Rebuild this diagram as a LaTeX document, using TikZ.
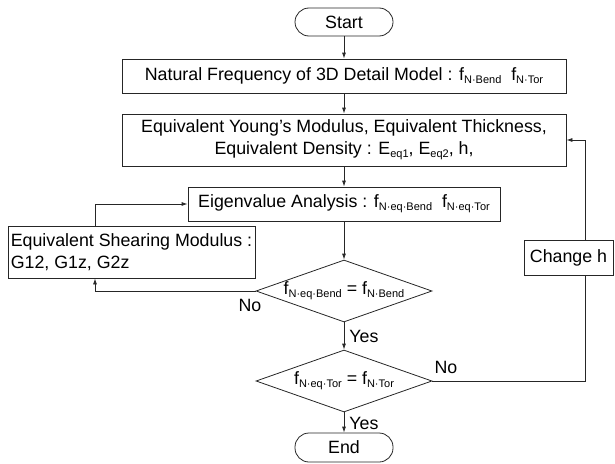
\documentclass[tikz,border=0pt]{standalone}
\usepackage{fontspec}
\setmainfont{Liberation Sans}
\usetikzlibrary{shapes.geometric,arrows.meta}
\newcommand\sbx[1]{\raisebox{-0.35ex}{\fontsize{11}{12}\selectfont #1}}
\begin{document}
\begin{tikzpicture}[x=1pt,y=-1pt,
  every node/.style={font=\fontsize{17.8}{22}\selectfont},
  box/.style={draw=black!85, line width=0.8pt, inner sep=0, align=center},
  term/.style={draw=black!85, line width=0.8pt, rounded corners=14pt, minimum width=98, minimum height=28, inner sep=0},
  dec/.style={draw=black!85, line width=0.8pt, diamond, aspect=2.84, minimum width=176, minimum height=62, inner sep=0},
  conn/.style={draw=black!85, line width=0.8pt},
  arr/.style={conn, -{Latex[length=6pt,width=4pt]}},
  lbl/.style={inner sep=0}
]
\useasboundingbox (0,0) rectangle (615,463);
\node[term] (start) at (344,22) {Start};
\node[box, minimum width=444, minimum height=34] (nf) at (344,76)
  {Natural Frequency of 3D Detail Model : f\sbx{N·Bend}\ \ f\sbx{N·Tor}};
\node[box, minimum width=444, minimum height=52] (eq) at (344,140)
  {Equivalent Young’s Modulus, Equivalent Thickness,\\ Equivalent Density : E\sbx{eq1}, E\sbx{eq2}, h,};
\node[box, minimum width=312, minimum height=34] (eig) at (344,204)
  {Eigenvalue Analysis : f\sbx{N·eq·Bend}\ \ f\sbx{N·eq·Tor}};
\node[box, align=left, minimum width=247, minimum height=52] (shear) at (131.5,252)
  {Equivalent Shearing Modulus :\\ G12, G1z, G2z};
\node[dec] (d1) at (344,291) {f\sbx{N·eq·Bend} = f\sbx{N·Bend}};
\node[dec] (d2) at (344,381) {f\sbx{N·eq·Tor} = f\sbx{N·Tor}};
\node[term, minimum height=29] (end) at (344,447.5) {End};
\node[box, minimum width=89, minimum height=35] (ch) at (568.5,258) {Change h};

\coordinate (shx) at (95,0);
\coordinate (chx) at (585,0);

\draw[arr] (start) -- (nf);
\draw[arr] (nf) -- (eq);
\draw[arr] (eq) -- (eig);
\draw[arr] (eig) -- (d1);
\draw[arr] (d1) -- (d2);
\draw[arr] (d2) -- (end);
\draw[arr] (d1.west) -| (shx |- shear.south);
\draw[arr] (shx |- shear.north) |- (eig.west);
\draw[conn] (d2.east) -| (chx |- ch.south);
\draw[arr] (chx |- ch.north) |- (eq.east);

\node[lbl] (no1) at (250,305) {No};
\node[lbl] (yes1) at (364,336) {Yes};
\node[lbl] (no2) at (446,367) {No};
\node[lbl] (yes2) at (364,423) {Yes};
\end{tikzpicture}
\end{document}
